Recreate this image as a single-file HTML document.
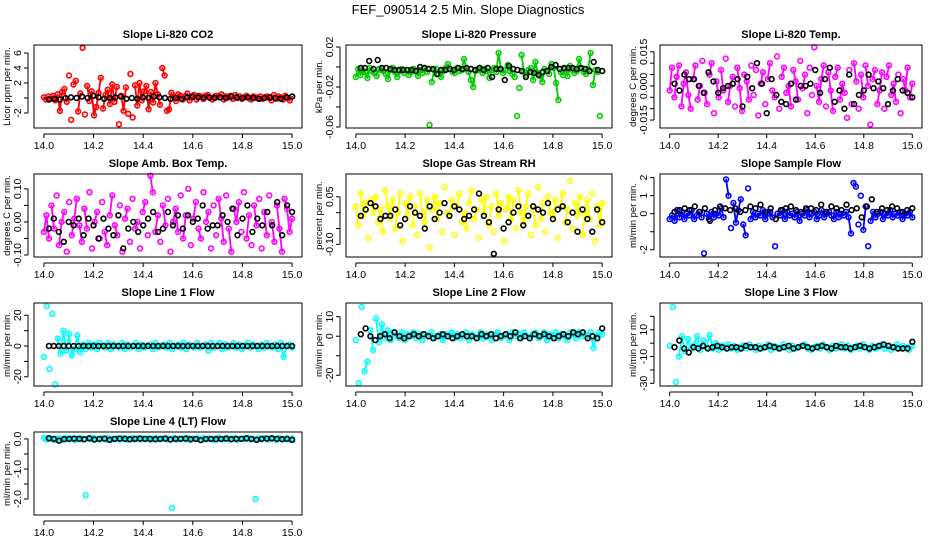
<!DOCTYPE html>
<html><head><meta charset="utf-8"><style>
body{margin:0;background:#fff;}
svg{display:block;font-family:"Liberation Sans",Arial,sans-serif;}
</style></head><body>
<svg id="c" width="936" height="540" viewBox="0 0 936 540">
<text x="468" y="14" text-anchor="middle" font-size="13">FEF_090514  2.5 Min. Slope Diagnostics</text>
</svg>
<script>
// ---- data (colored = all slopes, black = selected slopes) ----
const xMin = 14.0, xMax = 15.0;
const xTicks = [14.0, 14.2, 14.4, 14.6, 14.8, 15.0];
const xTickLabels = ["14.0", "14.2", "14.4", "14.6", "14.8", "15.0"];

const co2All = [0.1,-0.2,0.2,-0.1,0.3,-0.3,0.5,-1.7,0.8,1.2,-0.5,3.0,-2.9,1.8,2.3,-1.8,0.6,6.7,-2.2,1.6,-0.4,0.9,-2.3,-1.2,0.7,2.7,-1.4,0.4,1.1,-0.8,1.8,-0.5,1.5,-3.5,0.3,-1.7,1.4,-2.1,3.2,-2.6,1.7,-1.0,2.0,-0.3,0.9,1.6,-1.5,0.8,-0.6,2.0,0.5,-0.9,4.0,3.0,-1.7,-1.5,0.7,0.2,-0.4,0.5,0.3,-0.2,0.2,0.6,-0.3,0.1,0.4,-0.2,0.3,0.2,-0.1,0.3,0.4,0.0,-0.2,0.2,0.3,0.1,0.5,-0.2,0.2,0.1,0.3,-0.1,0.4,0.0,0.2,-0.1,0.1,0.3,0.0,-0.2,0.2,0.1,0.0,0.2,-0.1,0.1,0.2,0.0,-0.3,0.4,-0.1,0.2,0.1,-0.2,0.3,0.0,-0.3,0.2];
const co2Sel = [-0.2,-0.1,-0.2,0.0,0.1,0.0,0.2,0.0,0.3,0.1,-0.1,0.0,0.1,0.2,-0.1,0.0,-0.1,0.1,0.0,0.2,0.1,0.0,-0.1,0.0,-0.1,0.1,0.2,0.1,0.0,0.1,0.0,0.1,0.0,0.2,0.1,0.0,0.1,0.0,-0.1,0.0,0.1,0.0,-0.1,0.1,0.2];

const presAll = [-10,-2,-8,-3,-5,-11,-1,-4,-6,-9,-2,-3,-4,-7,-12,-3,-1,-5,-10,-4,-2,-6,-3,-8,-5,-2,-4,-9,-3,-6,-1,-5,-58,-15,-3,-2,-7,-10,-4,-1,3,-2,-5,-6,-1,-4,-3,8,-2,-5,-13,-20,-4,-3,-1,-6,-2,-4,-11,-3,-1,-5,14,-2,-6,-3,2,-4,-7,-10,-49,-21,12,-5,-8,-3,-1,-13,5,-6,-9,-15,-2,-4,-7,3,-1,-16,-33,-5,-8,-2,-9,1,-3,-6,-4,8,-1,-5,-7,-2,14,-18,-3,-5,-49,-4];
const presSel = [-1,-1,6,-2,7,-1,-1,-2,-3,-3,-3,-3,-3,-4,0,-1,-2,-2,-7,-3,-3,-2,-3,-1,-2,-1,-2,-3,-1,-3,-1,-10,-2,-2,-13,1,-2,-3,-4,-10,-5,-6,-8,-5,-4,0,2,-2,-1,-1,-1,-2,-1,-2,-4,5,-3,-4];

const tempAll = [-2,8,-5,4,9,-9,1,6,-4,-10,3,9,-6,0,11,-3,-8,5,10,-12,2,-5,7,-2,12,-7,0,4,-9,8,-1,-11,5,2,-6,9,-4,7,-13,1,6,-8,3,10,-2,-5,13,-10,4,8,-3,0,-9,7,2,-6,11,-1,5,-12,8,-4,17,0,-7,3,9,-9,6,-2,-11,4,8,-6,1,-3,-14,7,-8,10,2,-10,5,-5,9,0,-17,3,7,-8,-2,6,-10,4,9,-4,1,-7,5,-12,3,-2,8,-5,1];
const tempSel = [1,-2,5,3,3,0,-3,6,2,-3,-1,0,1,3,-9,4,-1,10,1,-12,3,-4,-7,-8,1,-6,0,0,1,7,-3,3,8,-7,-2,-10,5,-8,-4,-2,5,-1,2,-1,-8,-2,3,-2,-3,-5];

const ambAll = [-3,2,-5,5,-2,8,-7,0,3,-9,6,-4,1,7,-1,-6,4,-2,9,-8,0,3,-5,6,-3,-7,2,8,-1,-4,5,-9,1,4,-6,7,-2,0,-8,3,6,-4,14,9,-3,2,-6,5,-1,7,-9,0,4,-3,8,-5,2,10,-7,1,6,-2,-5,9,0,3,-8,5,-4,7,1,-6,8,-2,-9,4,0,6,-3,9,-5,2,-7,5,-1,7,-8,3,-4,8,0,-6,5,-2,-9,7,4,-3,1];
const ambSel = [-2,1,-3,-6,0,-1,1,-4,1,-1,-5,1,-2,-4,2,-8,-2,0,-3,-1,1,3,-3,-2,3,-1,2,-2,2,0,1,5,-2,-1,-1,2,0,4,-4,1,5,-3,1,-1,3,-1,6,-4,5,3];

const rhAll = [2,-4,6,-1,3,-8,4,0,5,-3,1,-6,7,2,-2,4,-5,0,6,-9,3,-1,5,-4,2,-7,6,0,-3,4,-11,1,5,-2,3,-6,8,0,-1,4,-7,2,6,-3,0,-5,3,7,-2,1,-8,4,0,5,-4,2,-6,6,-1,3,-9,1,5,-2,4,-5,7,0,-3,2,6,-7,1,-4,8,-2,3,-6,5,0,-1,4,-8,2,6,-3,1,10,-5,3,-1,5,-7,0,4,-2,6,-9,2,-4,3];
const rhSel = [-1,1,3,2,-2,-1,-1,1,-4,-2,2,0,-1,-5,2,-2,0,3,-1,2,1,-2,-1,1,6,-1,-3,-13,1,-5,-3,0,2,-4,-1,2,1,0,3,-2,1,2,-3,0,-6,1,-2,-6,1,-3];

const flowAll = [-0.3,-0.1,-0.4,0.2,-0.2,0.1,-0.3,0.0,-0.1,0.2,-0.3,-0.1,0.1,-0.2,-2.2,0.0,-0.3,0.1,-0.2,0.0,-0.1,0.3,-0.2,1.9,1.0,-0.8,0.6,-0.5,0.2,0.8,-0.6,-1.2,1.4,-0.3,0.1,-0.2,0.0,-0.1,0.2,-0.3,0.0,0.1,-0.2,-1.8,0.0,-0.1,0.2,-0.3,0.1,-0.1,0.0,-0.2,0.1,-0.4,0.0,-0.1,0.2,-0.2,0.0,0.1,-0.3,-0.1,0.2,-0.2,0.0,0.1,-0.1,-0.3,0.1,-0.2,0.0,-0.1,0.1,-0.2,-1.1,1.7,1.5,-0.6,1.0,-0.9,0.4,-1.8,-0.4,0.1,-0.2,0.0,0.1,-0.3,0.0,-0.1,0.2,-0.2,0.0,-0.1,0.1,-0.3,0.0,-0.1,0.1,-0.2];
const flowSel = [0.1,0.2,0.3,0.2,0.4,0.1,0.3,-0.4,0.2,0.4,0.3,0.2,0.3,0.1,0.2,0.4,0.3,0.5,0.1,0.3,-0.3,0.2,0.3,0.4,0.2,0.1,0.3,0.3,0.2,0.5,0.1,0.4,0.3,0.2,0.5,0.2,0.3,-0.2,0.4,0.8,0.1,0.3,0.2,0.4,0.3,0.1,0.2,0.3];

const l1All = [-7,26,-15,21,-25,5,-5,10,-3,8,-6,-2,7,-4,1,-2,2,-1,1,-2,2,0,-1,2,-2,1,0,-1,2,-2,1,-1,0,2,-2,1,-1,0,1,-2,2,-1,0,1,-1,2,-2,0,1,-1,2,-2,1,0,-1,2,-1,0,1,-3,2,-1,0,2,-2,1,-1,0,2,-1,1,-2,0,2,-1,1,0,-2,1,-1,2,0,-1,1,-2,2,-7,0,1,-1];
const l1Sel = [0,0,0,0,0,0,0,0,0,0,0,0,0,0,0,0,0,0,0,0,0,0,0,0,0,0,0,0,0,0,0,0,0,0,0,0,0,0,0,0,0,0,0,0,0,0,0,0,0,0];

const l2All = [-2,-24,15,-18,-13,3,-7,9,-3,6,-1,3,-2,2,0,-1,2,-2,1,0,2,-1,1,-2,1,0,2,-1,0,1,-2,1,0,2,-1,1,-1,0,2,-2,1,0,-1,2,-1,1,0,-2,1,2,-1,0,1,-2,2,0,1,-1,2,0,-1,1,2,-1,0,2,-2,1,0,2,-1,1,0,-2,2,1,-1,2,0,1,-1,2,-6,0,2,1];
const l2Sel = [1,4,0,-2,0,1,-1,2,0,-1,0,1,0,1,0,-1,0,1,0,-1,0,1,0,0,-1,1,0,1,-1,0,1,0,2,-1,0,-1,1,0,1,0,-1,0,1,0,2,1,2,-1,0,-1,4];

const l3All = [-2,27,-29,-10,5,-6,3,-4,-1,5,-5,2,-3,6,-4,0,-5,-2,-3,-1,-4,-2,-5,-3,-2,-4,-1,-3,-5,-2,-4,-3,-1,-5,-2,-3,-4,-1,-3,-5,-2,-4,-3,-2,-1,-4,-5,-3,-2,-4,-1,-3,-5,-2,-4,-3,-1,-4,-2,-5,-3,-2,-4,-1,-3,-5,-2,-4,-3,-1,-4,-2,-5,-3,-1,-4,-2,-3,-5,-2];
const l3Sel = [-3,2,-4,-7,-3,-4,-2,-4,-3,-2,-3,-4,-3,-3,-4,-2,-3,-3,-4,-3,-2,-3,-4,-3,-2,-4,-3,-2,-3,-4,-3,-2,-3,-4,-2,-3,-3,-4,-3,-2,-3,-4,-3,-2,-1,-2,-3,-4,-4,-4,1];

const l4All = [0.03,-0.02,0.04,0.0,-0.03,0.02,0.01,-0.02,0.03,-0.01,0.02,0.0,-0.03,0.01,0.03,-0.02,-1.87,0.02,-0.01,0.03,0.0,-0.02,0.02,0.01,-0.03,0.03,0.0,-0.01,0.02,-0.02,0.01,0.03,-0.03,0.0,0.02,-0.01,0.03,-0.02,0.01,0.0,0.02,-0.03,0.01,0.03,-0.01,0.0,0.02,-0.02,0.01,-2.3,0.03,-0.02,0.0,0.02,-0.01,0.03,-0.03,0.01,0.0,0.02,-0.02,0.03,-0.01,0.01,0.0,-0.03,0.02,0.03,-0.01,0.0,0.02,-0.02,0.01,0.03,-0.03,0.0,0.02,-0.01,0.03,-0.02,0.01,-2.0,0.02,-0.01,0.03,0.0,-0.02,0.02,0.01,-0.03,0.03,0.0,-0.01,0.02,-0.02,0.01];
const l4Sel = [0.02,0.0,-0.06,-0.01,0.0,0.01,0.0,-0.01,0.02,-0.02,0.0,0.01,-0.03,0.0,0.01,0.0,-0.01,0.0,0.01,0.0,0.0,-0.01,0.0,0.01,-0.02,0.0,0.0,0.01,-0.01,0.0,-0.04,0.0,0.0,-0.01,0.0,0.01,-0.01,0.0,0.0,0.02,0.0,-0.03,0.0,0.01,0.02,0.0,-0.01,0.0,-0.03];

// ---- layout ----
const cols = [{l:34,r:302},{l:346,r:612},{l:660,r:922}];
const rows = [{t:45,b:128},{t:174,b:257},{t:303,b:386},{t:432,b:515}];

const panels = [
 {name:"co2",title:"Slope Li-820 CO2",ylab:"Licor ppm per min.",col:"#ff0000",r:0,c:0,all:co2All,sel:co2Sel,k:1,ymin:-4,ymax:7.07,ticks:[-2,0,2,4,6],labs:["-2","","2","4","6"]},
 {name:"pressure",title:"Slope Li-820 Pressure",ylab:"kPa per min.",col:"#00cc00",r:0,c:1,all:presAll,sel:presSel,k:0.001,ymin:-0.061,ymax:0.022,ticks:[0.02,0,-0.02,-0.04,-0.06],labs:["0.02","","-0.02","","-0.06"]},
 {name:"li820-temp",title:"Slope Li-820 Temp.",ylab:"degrees C per min.",col:"#ff00ff",r:0,c:2,all:tempAll,sel:tempSel,k:0.001,ymin:-0.0185,ymax:0.018,ticks:[0.015,0.01,0.005,0,-0.005,-0.01,-0.015],labs:["0.015","","","0.000","","","-0.015"]},
 {name:"amb-box-temp",title:"Slope Amb. Box Temp.",ylab:"degrees C per min.",col:"#ff00ff",r:1,c:0,all:ambAll,sel:ambSel,k:0.01,ymin:-0.106,ymax:0.145,ticks:[0.1,0.05,0,-0.05,-0.1],labs:["0.10","","0.00","","-0.10"]},
 {name:"gas-stream-rh",title:"Slope Gas Stream RH",ylab:"percent per min.",col:"#ffff00",r:1,c:1,all:rhAll,sel:rhSel,k:0.01,ymin:-0.14,ymax:0.122,ticks:[0.05,0,-0.05,-0.1],labs:["0.05","","","-0.10"]},
 {name:"sample-flow",title:"Slope Sample Flow",ylab:"ml/min per min.",col:"#0000ff",r:1,c:2,all:flowAll,sel:flowSel,k:1,ymin:-2.4,ymax:2.2,ticks:[2,1,0,-1,-2],labs:["2","1","0","","-2"]},
 {name:"line1-flow",title:"Slope Line 1 Flow",ylab:"ml/min per min.",col:"#00ffff",r:2,c:0,all:l1All,sel:l1Sel,k:1,ymin:-26,ymax:28,ticks:[20,10,0,-10,-20],labs:["20","","0","","-20"]},
 {name:"line2-flow",title:"Slope Line 2 Flow",ylab:"ml/min per min.",col:"#00ffff",r:2,c:1,all:l2All,sel:l2Sel,k:1,ymin:-25.5,ymax:17,ticks:[10,0,-10,-20],labs:["10","0","","-20"]},
 {name:"line3-flow",title:"Slope Line 3 Flow",ylab:"ml/min per min.",col:"#00ffff",r:2,c:2,all:l3All,sel:l3Sel,k:1,ymin:-32,ymax:30,ticks:[20,10,0,-10,-20,-30],labs:["","10","","-10","","-30"]},
 {name:"line4-flow",title:"Slope Line 4 (LT) Flow",ylab:"ml/min per min.",col:"#00ffff",r:3,c:0,all:l4All,sel:l4Sel,k:1,ymin:-2.53,ymax:0.23,ticks:[0,-0.5,-1,-1.5,-2],labs:["0.0","","-1.0","","-2.0"]}
];

const NS = "http://www.w3.org/2000/svg";
const svg = document.getElementById("c");
function mk(tag, attrs, parent){const e=document.createElementNS(NS,tag);for(const k in attrs)e.setAttribute(k,attrs[k]);(parent||svg).appendChild(e);return e;}

panels.forEach(p=>{
  const C=cols[p.c], R=rows[p.r];
  const w=C.r-C.l, h=R.b-R.t;
  const dx0=C.l+w*0.037, dx1=C.r-w*0.037;
  const xs=v=>dx0+(v-xMin)/(xMax-xMin)*(dx1-dx0);
  const ys=v=>R.b-(v-p.ymin)/(p.ymax-p.ymin)*h;
  const g=mk("g",{});
  
  
  const t=mk("text",{x:(C.l+C.r)/2,y:R.t-7,"text-anchor":"middle","font-size":"11","font-weight":"bold"},g);
  t.textContent=p.title;
  
  
  const allPts=p.all.map((v,i)=>{
    const x=xMin+(xMax-xMin)*i/(p.all.length-1);
    return [xs(x),ys(v*p.k)];
  });
  // dense cloud: short links between neighbouring colored slopes (outliers left isolated)
  let d="";
  for(let i=1;i<allPts.length;i++){
    const a=allPts[i-1], b=allPts[i];
    if(Math.abs(a[1]-b[1])<h*0.3) d+=`M${a[0].toFixed(1)},${a[1].toFixed(1)}L${b[0].toFixed(1)},${b[1].toFixed(1)}`;
  }
  const band=mk("path",{d:d,fill:"none",stroke:p.col,"stroke-width":"1.8","stroke-linecap":"round"},g);
  
  
  // points
  const pts=mk("g",{fill:"none","stroke-width":"1.6"},g);
  
  
  allPts.forEach(q=>{
    const cc=mk("circle",{cx:q[0].toFixed(1),cy:q[1].toFixed(1),r:2.4,stroke:p.col},pts);
    
    
  });
  p.sel.forEach((v,i)=>{
    const x=14.02+(15.0-14.02)*i/(p.sel.length-1);
    const cc=mk("circle",{cx:xs(x).toFixed(1),cy:ys(v*p.k).toFixed(1),r:2.4,stroke:"#000"},pts);
    
    
  });
  // box
  const box=mk("rect",{x:C.l,y:R.t,width:w,height:h,fill:"none",stroke:"#000","stroke-width":"1"},g);
  
  
  // x axis
  const xa=mk("g",{"font-size":"10.5"},g);
  
  
  mk("line",{x1:xs(xTicks[0]),x2:xs(xTicks[xTicks.length-1]),y1:R.b+6,y2:R.b+6,stroke:"#000"},xa);
  xTicks.forEach((v,i)=>{
    mk("line",{x1:xs(v),x2:xs(v),y1:R.b+6,y2:R.b+10,stroke:"#000"},xa);
    const tl=mk("text",{x:xs(v),y:R.b+21,"text-anchor":"middle"},xa);
    tl.textContent=xTickLabels[i];
    
    
  });
  // y axis
  const ya=mk("g",{"font-size":"10.5"},g);
  
  
  const ax=C.l-6;
  mk("line",{x1:ax,x2:ax,y1:ys(p.ticks[0]),y2:ys(p.ticks[p.ticks.length-1]),stroke:"#000"},ya);
  p.ticks.forEach((v,i)=>{
    mk("line",{x1:ax-4,x2:ax,y1:ys(v),y2:ys(v),stroke:"#000"},ya);
    if(p.labs[i]){
      const tx=ax-7, ty=ys(v);
      const tl=mk("text",{x:tx,y:ty,"text-anchor":"middle",transform:`rotate(-90 ${tx} ${ty})`},ya);
      tl.textContent=p.labs[i];
      
      
    }
  });
  const yx=C.l-24, yy=(R.t+R.b)/2;
  const yl=mk("text",{x:yx,y:yy,"text-anchor":"middle","font-size":"9.5",transform:`rotate(-90 ${yx} ${yy})`},g);
  yl.textContent=p.ylab;
  
  
});
</script>
</body></html>
